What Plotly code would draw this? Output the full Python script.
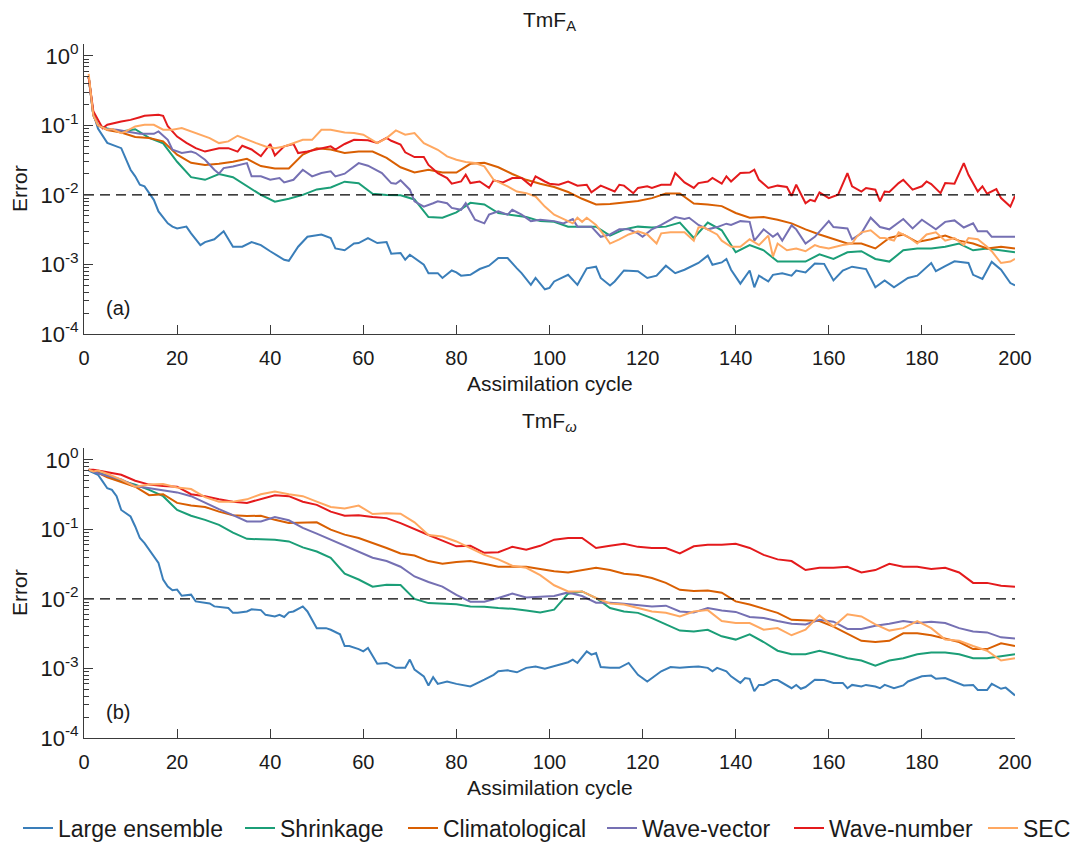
import plotly.graph_objects as go

# ---------------- data ----------------
# common cycle grid used for the smoother series
cycles = [1, 2, 3] + list(range(5, 201, 3))

series_names = ["Large ensemble", "Shrinkage", "Climatological",
                "Wave-vector", "Wave-number", "SEC"]
series_colors = ["#3A7EB9", "#1B9E77", "#D95F02", "#7570B3", "#E41A1C", "#FFA861"]

# ---- panel (a): TmF_A ----
# noisy series read more densely: (cycle, error)
large_a_pts = [(1, 0.5), (2, 0.15), (3, 0.09), (5, 0.056), (8, 0.047), (10, 0.023), (11, 0.0185),
               (12, 0.014), (13, 0.0133), (15, 0.0085), (16, 0.0058), (18, 0.0039), (19, 0.0035),
               (20, 0.0033), (22, 0.0035), (23, 0.0028), (25, 0.0019), (26, 0.0021), (28, 0.0023),
               (30, 0.003), (32, 0.0018), (34, 0.0018), (36, 0.0021), (38, 0.0019), (40, 0.00155),
               (43, 0.00117), (44, 0.00113), (46, 0.0018), (48, 0.0025), (51, 0.0027), (53, 0.0024),
               (54, 0.0017), (56, 0.0016), (58, 0.002), (59, 0.00203), (61, 0.0024), (63, 0.00203),
               (65, 0.0021), (66, 0.00143), (68, 0.00146), (69, 0.00117), (70, 0.00138),
               (73, 0.00099), (74, 0.00075), (76, 0.00075), (77, 0.00064), (79, 0.00082),
               (80, 0.00077), (81, 0.00069), (83, 0.00071), (85, 0.00086), (87, 0.00096),
               (89, 0.00124), (91, 0.00124), (93, 0.00088), (94, 0.00075), (96, 0.00051),
               (97, 0.00064), (99, 0.00044), (100, 0.00046), (101, 0.00057), (104, 0.00071),
               (106, 0.00051), (108, 0.00088), (110, 0.00093), (111, 0.00064), (113, 0.0005),
               (114, 0.00057), (116, 0.00082), (119, 0.0008), (121, 0.00064), (123, 0.00069),
               (125, 0.00096), (127, 0.00075), (129, 0.00084), (131, 0.00096), (132, 0.00105),
               (134, 0.00134), (135, 0.00099), (137, 0.00107), (138, 0.0012), (139, 0.00084),
               (141, 0.00053), (143, 0.00082), (144, 0.00047), (145, 0.00069), (147, 0.00057),
               (148, 0.00071), (150, 0.00075), (152, 0.00069), (153, 0.00082), (155, 0.00077),
               (157, 0.00103), (159, 0.00102), (161, 0.00059), (163, 0.00082), (165, 0.00093),
               (168, 0.00086), (170, 0.00047), (172, 0.00059), (174, 0.00047), (177, 0.00064),
               (179, 0.00069), (182, 0.00105), (183, 0.0008), (185, 0.00095), (187, 0.00111),
               (190, 0.00105), (191, 0.00071), (193, 0.00062), (195, 0.00109), (197, 0.00084),
               (199, 0.00054), (200, 0.0005)]
wvec_a_pts = [(1, 0.5), (2, 0.14), (3, 0.1), (5, 0.0884), (7, 0.0865), (9, 0.0818), (12, 0.0757),
              (15, 0.0757), (16, 0.0818), (18, 0.062), (19, 0.0446), (21, 0.04), (23, 0.042),
              (24, 0.04), (26, 0.032), (28, 0.023), (29, 0.0202), (30, 0.0243), (32, 0.0257),
              (35, 0.0287), (36, 0.0185), (38, 0.0185), (40, 0.0165), (42, 0.0175), (43, 0.0151),
              (45, 0.0165), (47, 0.023), (49, 0.0185), (51, 0.0206), (53, 0.0218), (54, 0.0185),
              (56, 0.0202), (58, 0.0257), (59, 0.0287), (61, 0.0263), (62, 0.0243), (64, 0.0206),
              (66, 0.0148), (67, 0.0145), (68, 0.0162), (70, 0.0119), (71, 0.0081), (73, 0.0068),
              (75, 0.0076), (76, 0.0081), (78, 0.0076), (79, 0.0065), (81, 0.0061), (82, 0.0076),
              (84, 0.0044), (86, 0.0039), (87, 0.0052), (89, 0.0058), (91, 0.0052), (92, 0.0061),
              (94, 0.0052), (96, 0.0042), (98, 0.0044), (101, 0.0042), (103, 0.0039),
              (105, 0.0045), (106, 0.0035), (109, 0.0035), (111, 0.0025), (113, 0.0027),
              (115, 0.0032), (117, 0.0032), (119, 0.0028), (120, 0.0025), (122, 0.0032),
              (124, 0.0037), (127, 0.0048), (129, 0.0045), (130, 0.0047), (132, 0.0037),
              (134, 0.0032), (136, 0.00345), (138, 0.00386), (139, 0.0037), (141, 0.0042),
              (143, 0.0041), (144, 0.0022), (146, 0.0032), (148, 0.0025), (149, 0.0028),
              (150, 0.0022), (152, 0.00365), (153, 0.0032), (155, 0.002), (157, 0.0025),
              (158, 0.003), (160, 0.0042), (161, 0.00345), (164, 0.0033), (165, 0.0023),
              (167, 0.0028), (169, 0.0047), (171, 0.00345), (173, 0.0032), (176, 0.0045),
              (178, 0.0033), (180, 0.0044), (183, 0.0032), (185, 0.0041), (187, 0.0043),
              (189, 0.0034), (191, 0.0039), (192, 0.003), (194, 0.003), (195, 0.0025),
              (198, 0.0025), (200, 0.0025)]
wnum_a_pts = [(1, 0.5), (2, 0.16), (4, 0.091), (5, 0.102), (8, 0.114), (10, 0.12), (12, 0.131),
              (13, 0.137), (16, 0.142), (17, 0.137), (18, 0.097), (20, 0.069), (22, 0.056),
              (24, 0.047), (26, 0.042), (28, 0.045), (29, 0.047), (31, 0.047), (33, 0.042),
              (34, 0.051), (36, 0.045), (38, 0.036), (40, 0.054), (41, 0.037), (43, 0.05),
              (45, 0.054), (46, 0.04), (48, 0.042), (51, 0.047), (53, 0.05), (54, 0.045),
              (56, 0.054), (58, 0.062), (61, 0.061), (63, 0.056), (65, 0.066), (66, 0.06),
              (68, 0.053), (69, 0.041), (71, 0.035), (73, 0.035), (74, 0.027), (76, 0.0206),
              (78, 0.0175), (79, 0.0145), (81, 0.0156), (82, 0.0195), (83, 0.0148), (85, 0.0156),
              (87, 0.0126), (88, 0.0162), (90, 0.0151), (92, 0.0175), (94, 0.0175), (96, 0.0136),
              (97, 0.0185), (99, 0.0156), (100, 0.0145), (102, 0.014), (104, 0.0156),
              (106, 0.0136), (108, 0.014), (109, 0.0109), (111, 0.0136), (114, 0.0112),
              (115, 0.014), (116, 0.0136), (118, 0.0106), (119, 0.0126), (121, 0.0133),
              (122, 0.0126), (124, 0.014), (126, 0.014), (127, 0.0206), (129, 0.0151),
              (131, 0.0126), (132, 0.0148), (133, 0.0151), (134, 0.0156), (135, 0.0175),
              (137, 0.0145), (138, 0.0185), (139, 0.0156), (141, 0.0206), (143, 0.021),
              (144, 0.023), (145, 0.0165), (147, 0.0126), (149, 0.0136), (151, 0.013),
              (152, 0.0097), (153, 0.014), (155, 0.0076), (156, 0.0085), (157, 0.0081),
              (158, 0.0109), (160, 0.009), (162, 0.0101), (164, 0.0206), (165, 0.0133),
              (167, 0.0112), (168, 0.0126), (170, 0.0119), (171, 0.0081), (172, 0.0112),
              (173, 0.011), (175, 0.0148), (176, 0.0165), (178, 0.0119), (180, 0.0133),
              (181, 0.0156), (182, 0.0143), (184, 0.0106), (185, 0.0148), (187, 0.0145),
              (189, 0.0287), (190, 0.0195), (192, 0.0112), (193, 0.0133), (194, 0.0104),
              (196, 0.0121), (197, 0.009), (199, 0.0068), (200, 0.0097)]
sec_a_pts = [(1, 0.55), (2, 0.14), (3, 0.1), (5, 0.0865), (6, 0.0884), (8, 0.0774), (9, 0.0818),
             (11, 0.0966), (13, 0.102), (15, 0.102), (17, 0.0865), (19, 0.0865), (21, 0.0914),
             (23, 0.0818), (25, 0.0733), (27, 0.0656), (29, 0.0556), (31, 0.0588), (33, 0.0709),
             (35, 0.062), (37, 0.0556), (39, 0.0498), (41, 0.047), (43, 0.0498), (45, 0.0556),
             (47, 0.062), (49, 0.062), (51, 0.0865), (53, 0.0865), (56, 0.0791), (58, 0.0774),
             (60, 0.0733), (63, 0.0556), (65, 0.0656), (67, 0.0846), (69, 0.0733), (71, 0.0774),
             (73, 0.0556), (76, 0.0446), (78, 0.0358), (80, 0.032), (82, 0.0297), (84, 0.0287),
             (86, 0.0257), (88, 0.0165), (91, 0.0133), (93, 0.0112), (95, 0.0106), (97, 0.0095),
             (99, 0.0068), (101, 0.0052), (104, 0.0042), (105, 0.0039), (106, 0.0047),
             (107, 0.0041), (108, 0.0047), (110, 0.0037), (112, 0.0025), (113, 0.002),
             (115, 0.0023), (117, 0.0027), (119, 0.003), (121, 0.0027), (123, 0.002),
             (124, 0.0028), (126, 0.0029), (129, 0.0029), (131, 0.0022), (132, 0.0034),
             (133, 0.00345), (134, 0.0032), (136, 0.0027), (137, 0.0022), (139, 0.0018),
             (141, 0.0018), (143, 0.0023), (145, 0.0019), (147, 0.0026), (148, 0.0013),
             (149, 0.002), (151, 0.0016), (153, 0.0017), (155, 0.00155), (157, 0.0019),
             (158, 0.0018), (160, 0.0017), (163, 0.0019), (165, 0.002), (166, 0.0025),
             (167, 0.0029), (169, 0.0031), (171, 0.0024), (172, 0.0024), (174, 0.0022),
             (175, 0.0029), (177, 0.0025), (179, 0.002), (181, 0.0027), (183, 0.0029),
             (185, 0.0022), (187, 0.0024), (189, 0.0019), (190, 0.0024), (192, 0.0023),
             (194, 0.0018), (195, 0.00155), (197, 0.00105), (199, 0.0011), (200, 0.0012)]
# smoother series on the common grid
shrink_a = [0.5, 0.14, 0.1,
            0.09, 0.082, 0.088, 0.066, 0.055, 0.03, 0.018, 0.0165, 0.02, 0.018, 0.0133,
            0.01, 0.008, 0.0088, 0.01, 0.012, 0.0128, 0.0155, 0.0147,
            0.0104, 0.01, 0.0099, 0.0086, 0.0048, 0.0047, 0.0056, 0.0077, 0.0073, 0.0055,
            0.0051, 0.0048, 0.0042, 0.0041, 0.0035, 0.0035, 0.0035, 0.0026, 0.0032, 0.0035,
            0.0034, 0.0035, 0.004, 0.0024,
            0.004, 0.0031, 0.0015, 0.0019, 0.0016, 0.0011, 0.0011, 0.0011, 0.0014, 0.0012,
            0.0015, 0.00155, 0.0012, 0.0011, 0.0016, 0.0017, 0.0017, 0.0018, 0.002, 0.0016,
            0.0017, 0.0016, 0.0015]
clim_a = [0.5, 0.14, 0.1,
          0.086, 0.079, 0.068, 0.066, 0.059, 0.038, 0.029, 0.027, 0.028, 0.03, 0.033,
          0.026, 0.024, 0.024, 0.038, 0.047, 0.045, 0.04, 0.042,
          0.042, 0.034, 0.025, 0.021, 0.023, 0.021, 0.021, 0.028, 0.029, 0.025, 0.02,
          0.0165, 0.0145, 0.013, 0.011, 0.0088, 0.0073, 0.0074, 0.0078, 0.0082, 0.009,
          0.0105, 0.0105, 0.0075,
          0.0073, 0.0069, 0.0055, 0.0047, 0.0048, 0.0044, 0.0039, 0.0032, 0.0027, 0.0023,
          0.002, 0.002, 0.0017, 0.0024, 0.0027, 0.0021, 0.0023, 0.0026, 0.0022, 0.002,
          0.0017, 0.0018, 0.0017]

# ---- panel (b): TmF_omega ----
large_b_pts = [(1, 0.7), (3, 0.61), (4, 0.49), (5, 0.39), (6, 0.37), (7, 0.3), (8, 0.19),
               (10, 0.153), (11, 0.11), (12, 0.075), (13, 0.0635), (15, 0.0408), (16, 0.0328),
               (17, 0.0189), (18, 0.0151), (19, 0.0133), (20, 0.0136), (21, 0.0111), (22, 0.0113),
               (23, 0.0115), (24, 0.0092), (26, 0.0087), (27, 0.0086), (28, 0.0078), (31, 0.0074),
               (32, 0.0063), (33, 0.0063), (35, 0.0066), (36, 0.0071), (38, 0.0069), (39, 0.0059),
               (41, 0.0056), (42, 0.0059), (43, 0.0055), (44, 0.0064), (45, 0.0066), (47, 0.0078),
               (48, 0.0066), (49, 0.005), (50, 0.0038), (52, 0.0038), (53, 0.0036), (55, 0.0031),
               (56, 0.0021), (57, 0.0021), (59, 0.0019), (60, 0.00176), (61, 0.00197),
               (63, 0.00117), (65, 0.0012), (67, 0.00102), (69, 0.00102), (70, 0.00134),
               (71, 0.00096), (73, 0.00077), (74, 0.00057), (75, 0.00075), (76, 0.0006),
               (78, 0.00065), (80, 0.0006), (83, 0.00055), (85, 0.00065), (86, 0.00069),
               (88, 0.00081), (89, 0.00091), (91, 0.00094), (93, 0.00088), (95, 0.00102),
               (97, 0.00107), (99, 0.00099), (101, 0.00107), (104, 0.00123), (105, 0.00134),
               (106, 0.0012), (108, 0.00176), (109, 0.00158), (110, 0.00167), (111, 0.00105),
               (113, 0.00102), (115, 0.00102), (117, 0.0012), (119, 0.00081), (121, 0.00065),
               (123, 0.00081), (124, 0.00091), (126, 0.00105), (128, 0.00102), (130, 0.00105),
               (132, 0.00107), (134, 0.00102), (135, 0.00091), (136, 0.00102), (138, 0.00091),
               (139, 0.00077), (141, 0.00062), (142, 0.00073), (143, 0.00071), (144, 0.00047),
               (145, 0.00058), (146, 0.00058), (148, 0.00068), (149, 0.00068), (152, 0.00052),
               (153, 0.00058), (154, 0.00051), (155, 0.00054), (157, 0.00069), (159, 0.00068),
               (161, 0.00062), (163, 0.00062), (164, 0.00052), (165, 0.00058), (167, 0.00055),
               (168, 0.00058), (170, 0.00055), (171, 0.00052), (172, 0.00058), (174, 0.00052),
               (176, 0.00057), (177, 0.00065), (180, 0.00077), (182, 0.00079), (183, 0.00071),
               (185, 0.00073), (187, 0.00065), (189, 0.00057), (191, 0.00058), (192, 0.00049),
               (194, 0.00049), (195, 0.0006), (197, 0.00051), (198, 0.00053), (200, 0.00041)]
shrink_b = [0.72, 0.7, 0.66,
            0.59, 0.5, 0.44, 0.37, 0.3, 0.19, 0.157, 0.137, 0.116, 0.09, 0.073,
            0.072, 0.071, 0.067, 0.055, 0.048, 0.039, 0.023, 0.019,
            0.015, 0.016, 0.0158, 0.01, 0.0087, 0.0085, 0.0084, 0.0078, 0.0077, 0.0074,
            0.0072, 0.0068, 0.0064, 0.007, 0.0119, 0.0128, 0.0103, 0.0074, 0.0066, 0.0063,
            0.0053, 0.0043, 0.0035, 0.0034,
            0.0036, 0.0029, 0.0026, 0.0031, 0.0024, 0.0018, 0.0016, 0.0016, 0.0018, 0.0016,
            0.0014, 0.0013, 0.0011, 0.0013, 0.0014, 0.0016, 0.0017, 0.0017, 0.0016, 0.0014,
            0.0014, 0.0015, 0.0016]
clim_b = [0.72, 0.7, 0.65,
          0.56, 0.48, 0.41, 0.31, 0.32, 0.24, 0.22, 0.21, 0.18, 0.16, 0.155,
          0.157, 0.137, 0.123, 0.123, 0.126, 0.099, 0.084, 0.075,
          0.064, 0.054, 0.045, 0.042, 0.035, 0.032, 0.034, 0.035, 0.032, 0.029, 0.029,
          0.029, 0.027, 0.025, 0.024, 0.026, 0.028, 0.026, 0.023, 0.022, 0.02, 0.017,
          0.0135, 0.013,
          0.0132, 0.0123, 0.0092, 0.0083, 0.0072, 0.0063, 0.005, 0.0049, 0.0048, 0.004,
          0.0032, 0.0025, 0.0024, 0.0025, 0.0032, 0.0032, 0.003, 0.0027, 0.0024, 0.0019,
          0.0019, 0.0023, 0.0021]
wvec_b = [0.72, 0.68, 0.64,
          0.59, 0.52, 0.42, 0.39, 0.36, 0.34, 0.3, 0.24, 0.195, 0.16, 0.13,
          0.13, 0.15, 0.135, 0.105, 0.087, 0.071, 0.057, 0.047,
          0.039, 0.035, 0.029, 0.021, 0.0175, 0.015, 0.0114, 0.0091, 0.0091, 0.0103,
          0.0119, 0.0105, 0.0107, 0.011, 0.0124, 0.011, 0.0088, 0.0088, 0.0085, 0.0082,
          0.0078, 0.008, 0.0066, 0.0064,
          0.0074, 0.0068, 0.0065, 0.0055, 0.0053, 0.0048, 0.0044, 0.0043, 0.005, 0.0047,
          0.0037, 0.0037, 0.0041, 0.0044, 0.0048, 0.0045, 0.0047, 0.0045, 0.0038, 0.0034,
          0.0033, 0.0028, 0.0027]
wnum_b = [0.72, 0.72, 0.7,
          0.66, 0.61, 0.5, 0.44, 0.42, 0.41, 0.32, 0.3, 0.27, 0.25, 0.24,
          0.27, 0.31, 0.3, 0.25, 0.225, 0.18, 0.157, 0.16,
          0.15, 0.145, 0.123, 0.1, 0.083, 0.069, 0.057, 0.058, 0.046, 0.047, 0.056,
          0.051, 0.058, 0.071, 0.075, 0.075, 0.054, 0.058, 0.062, 0.056, 0.054, 0.054,
          0.045, 0.057,
          0.06, 0.06, 0.062, 0.054, 0.043, 0.037, 0.035, 0.026, 0.028, 0.028,
          0.029, 0.024, 0.026, 0.032, 0.029, 0.029, 0.027, 0.028, 0.024, 0.017,
          0.017, 0.0155, 0.015]
sec_b = [0.72, 0.68, 0.7,
         0.63, 0.52, 0.41, 0.44, 0.45, 0.4, 0.38, 0.29, 0.25, 0.25, 0.27,
         0.32, 0.35, 0.32, 0.3, 0.25, 0.21, 0.2, 0.22,
         0.166, 0.17, 0.168, 0.126, 0.083, 0.079, 0.067, 0.054, 0.043, 0.037, 0.03,
         0.028, 0.022, 0.0157, 0.0128, 0.0128, 0.0103, 0.0086, 0.0083, 0.0074, 0.0066,
         0.0063, 0.0056, 0.0066,
         0.0069, 0.0048, 0.0045, 0.0045, 0.0036, 0.0038, 0.003, 0.0036, 0.0058, 0.004,
         0.006, 0.0056, 0.0043, 0.0035, 0.0038, 0.0048, 0.0038, 0.0026, 0.0025, 0.0021,
         0.0018, 0.0013, 0.0014]


def unzip(pts):
    return [p[0] for p in pts], [p[1] for p in pts]


panel_a = [unzip(large_a_pts), (cycles, shrink_a), (cycles, clim_a),
           unzip(wvec_a_pts), unzip(wnum_a_pts), unzip(sec_a_pts)]
panel_b = [unzip(large_b_pts), (cycles, shrink_b), (cycles, clim_b),
           (cycles, wvec_b), (cycles, wnum_b), (cycles, sec_b)]

threshold = 0.01
x_ticks = list(range(0, 201, 20))
y_tick_vals = [1e-4, 1e-3, 1e-2, 1e-1, 1]
y_tick_text = ["10<sup>-4</sup>", "10<sup>-3</sup>", "10<sup>-2</sup>",
               "10<sup>-1</sup>", "10<sup>0</sup>"]

# ---------------- figure ----------------
FONT = "Liberation Sans, Arial, Helvetica, sans-serif"
AX = "#3a3a3a"
TXT = "#1a1a1a"
W, H = 1077, 836
PLOT_H = 694.0


def py(page_y):
    # page pixel row -> paper fraction (plot area spans page rows 44..738)
    return (738.0 - page_y) / PLOT_H


def px(page_x):
    # page pixel column -> paper fraction (plot area spans page columns 84..1015)
    return (page_x - 84.0) / 931.0


legend_keys = ["legend", "legend2", "legend3", "legend4", "legend5", "legend6"]
legend_text_start = [58, 280, 443, 642, 829, 1023]   # page columns of legend labels

fig = go.Figure()
for i, (name, color) in enumerate(zip(series_names, series_colors)):
    xa_vals, ya_vals = panel_a[i]
    xb_vals, yb_vals = panel_b[i]
    fig.add_trace(go.Scatter(x=xa_vals, y=ya_vals, name=name, mode="lines",
                             line=dict(color=color, width=2), xaxis="x", yaxis="y",
                             legendgroup=name, legend=legend_keys[i], showlegend=True))
    fig.add_trace(go.Scatter(x=xb_vals, y=yb_vals, name=name, mode="lines",
                             line=dict(color=color, width=2), xaxis="x2", yaxis="y2",
                             legendgroup=name, legend=legend_keys[i], showlegend=False))

for xa, ya in (("x", "y"), ("x2", "y2")):
    fig.add_trace(go.Scatter(x=[0, 200], y=[threshold, threshold], mode="lines",
                             line=dict(color="black", width=1.2, dash="10px,6px"),
                             xaxis=xa, yaxis=ya, showlegend=False, hoverinfo="skip"))

minor_vals = [k * 10.0 ** e for e in range(-4, 0) for k in range(2, 10)]


def xaxis_style(anchor):
    return dict(range=[0, 200], tickvals=x_ticks, ticks="inside", ticklen=9,
                tickcolor=AX, showline=True, linecolor=AX, linewidth=1,
                showgrid=False, zeroline=False, anchor=anchor, automargin=False,
                tickfont=dict(family=FONT, size=20, color=TXT),
                ticklabelstandoff=6)


def yaxis_style(anchor, domain):
    return dict(type="log", range=[-4, 0.17], domain=domain, tickvals=y_tick_vals,
                ticktext=y_tick_text, ticks="inside", ticklen=9, tickcolor=AX,
                minor=dict(tickvals=minor_vals, ticks="inside", ticklen=5,
                           tickcolor=AX, showgrid=False),
                showline=True, linecolor=AX, linewidth=1, showgrid=False,
                zeroline=False, anchor=anchor, automargin=False,
                tickfont=dict(family=FONT, size=22, color=TXT))


def label(text, x, y, size=21, angle=0):
    return dict(text=text, x=x, y=y, xref="paper", yref="paper",
                xanchor="center", yanchor="middle", showarrow=False, textangle=angle,
                font=dict(family=FONT, size=size, color=TXT))


annotations = [
    label("TmF<sub>A</sub>", 0.5, py(21)),
    label("TmF<sub><i>\u03c9</i></sub>", 0.5, py(422)),
    label("Assimilation cycle", 0.5, py(383)),
    label("Assimilation cycle", 0.5, py(787)),
    label("Error", px(19), py(189), angle=-90),
    label("Error", px(19), py(593), angle=-90),
    dict(text="(a)", x=0.036, y=0.09, xref="x domain", yref="y domain",
         xanchor="center", yanchor="middle", showarrow=False,
         font=dict(family=FONT, size=20, color=TXT)),
    dict(text="(b)", x=0.036, y=0.09, xref="x2 domain", yref="y2 domain",
         xanchor="center", yanchor="middle", showarrow=False,
         font=dict(family=FONT, size=20, color=TXT)),
]

layout = dict(
    width=W, height=H,
    margin=dict(l=76, r=70, t=36, b=106, autoexpand=False),
    paper_bgcolor="white", plot_bgcolor="white",
    font=dict(family=FONT, size=20, color=TXT),
    xaxis=xaxis_style("y"),
    yaxis=yaxis_style("x", [0.5821, 1.0]),
    xaxis2=xaxis_style("y2"),
    yaxis2=yaxis_style("x2", [0.0, 0.4179]),
    showlegend=True,
    annotations=annotations,
)
for key, start in zip(legend_keys, legend_text_start):
    layout[key] = dict(orientation="h", xref="paper", yref="paper",
                       x=px(start - 40), xanchor="left", y=py(828), yanchor="middle",
                       font=dict(family=FONT, size=23, color=TXT),
                       itemwidth=30, bgcolor="rgba(0,0,0,0)")

fig.update_layout(**layout)
fig.write_html("out.html")
